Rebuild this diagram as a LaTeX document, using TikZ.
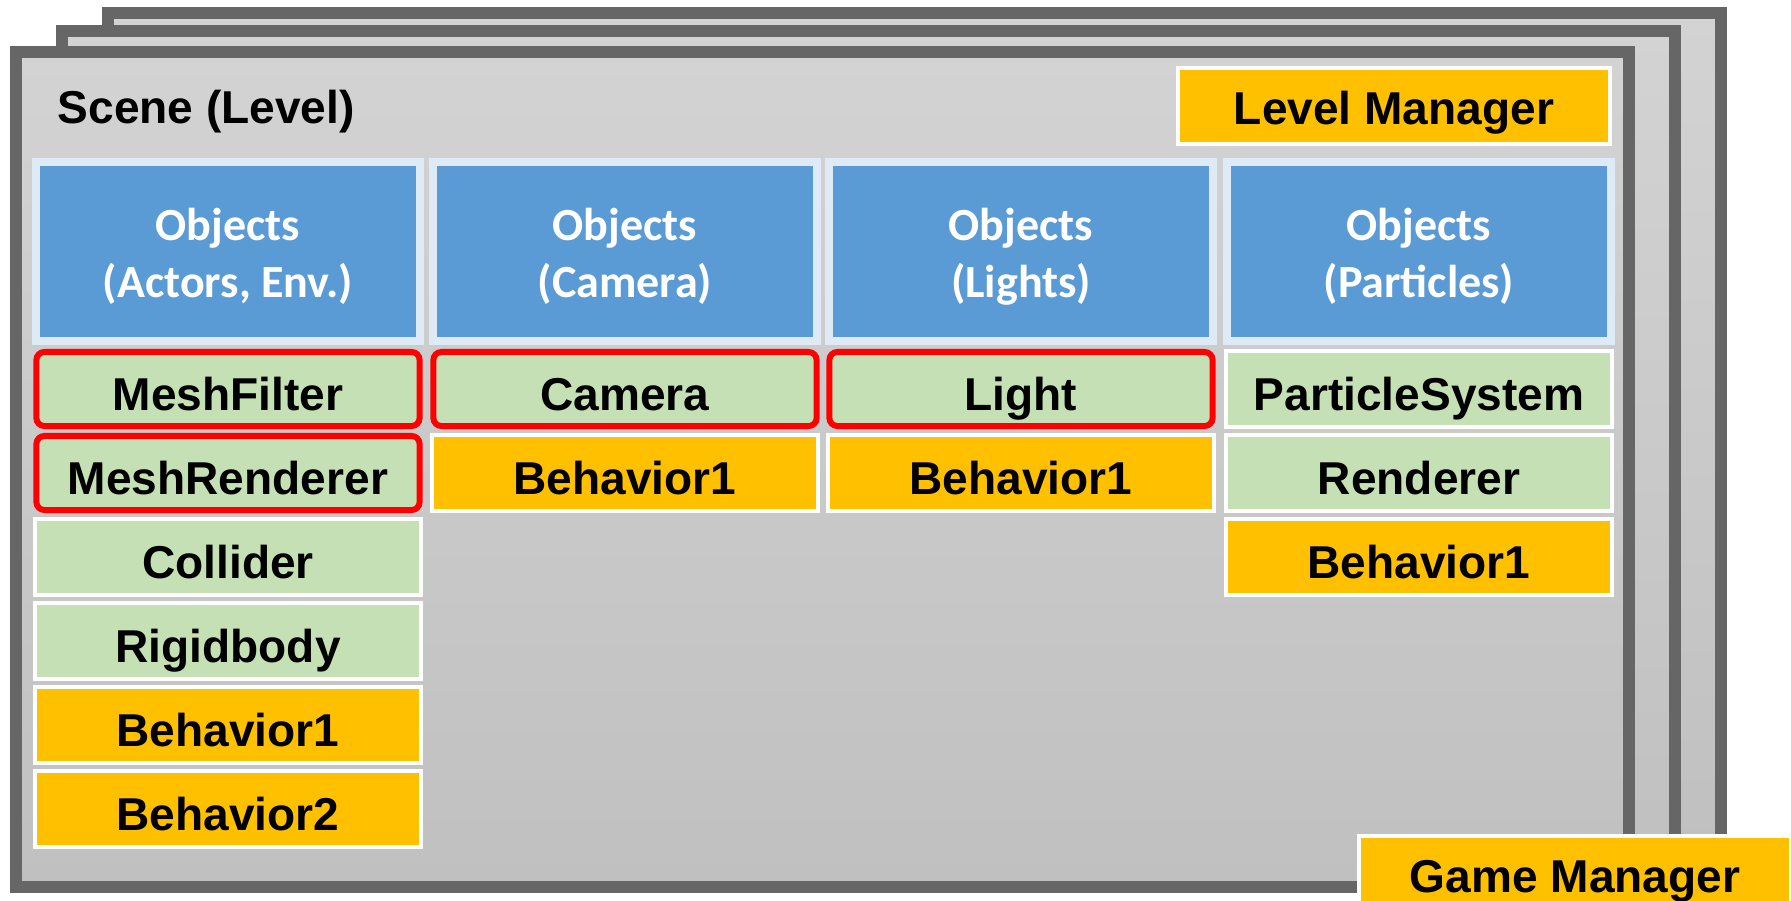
\documentclass[tikz,border=0pt]{standalone}
\usepackage{fontspec}
\setmainfont{Liberation Sans}
\newfontfamily\objfont{Carlito}

\definecolor{framegray}{HTML}{666666}
\definecolor{scenetop}{HTML}{D3D3D3}
\definecolor{scenebot}{HTML}{C0C0C0}
\definecolor{objblue}{HTML}{5B9BD5}
\definecolor{objedge}{HTML}{DEEBF7}
\definecolor{compgreen}{HTML}{C5E0B4}
\definecolor{behavyellow}{HTML}{FFC000}
\definecolor{keyred}{HTML}{FF0000}

\begin{document}
\begin{tikzpicture}[x=0.01cm, y=-0.01cm,
  frame/.style={draw=framegray, line width=3.4pt, top color=scenetop, bottom color=scenebot},
  objbox/.style={fill=objblue, draw=objedge, line width=2.3pt, minimum width=3.83cm, minimum height=1.79cm,
    align=center, text=white, text height=1.05cm, text depth=0.14cm, inner sep=0pt,
    font=\objfont\bfseries\fontsize{13.1}{16.2}\selectfont},
  compbox/.style={draw=white, line width=1.1pt, minimum width=3.85cm, minimum height=0.76cm, inner sep=0pt,
    text height=0.5cm, text depth=0.08cm, font=\bfseries\fontsize{13.1}{16}\selectfont},
  comp/.style={compbox, fill=compgreen},
  behav/.style={compbox, fill=behavyellow},
  keycomp/.style={compbox, fill=compgreen, draw=keyred, line width=1.7pt, rounded corners=0.08cm,
    minimum width=3.83cm, minimum height=0.74cm},
  manager/.style={compbox, fill=behavyellow, minimum width=4.32cm, text depth=0.14cm}]
  \useasboundingbox (0,0) rectangle (1791,900);

  % stacked scenes
  \draw[frame] (108,13) rectangle (1721,848);
  \draw[frame] (62,31) rectangle (1675,866);
  \draw[frame] (16,52) rectangle (1629,887);

  \node[anchor=base west, inner sep=0pt, font=\bfseries\fontsize{13.1}{16}\selectfont] (scene) at (57,123) {Scene (Level)};
  \node[manager] (levelmgr) at (1394,106) {Level Manager};

  % objects
  \node[objbox] (actors) at (228,251.5) {Objects\\(Actors, Env.)};
  \node[objbox] (camobj) at (625,251.5) {Objects\\(Camera)};
  \node[objbox] (lightobj) at (1021,251.5) {Objects\\(Lights)};
  \node[objbox] (partobj) at (1419,251.5) {Objects\\(Particles)};

  % components of actors
  \node[keycomp] (meshfilter) at (228,389) {MeshFilter};
  \node[keycomp] (meshrenderer) at (228,473) {MeshRenderer};
  \node[comp] (collider) at (228,557) {Collider};
  \node[comp] (rigidbody) at (228,641) {Rigidbody};
  \node[behav] (actbehav1) at (228,725) {Behavior1};
  \node[behav] (actbehav2) at (228,809) {Behavior2};

  % camera
  \node[keycomp] (camera) at (625,389) {Camera};
  \node[behav] (cambehav) at (625,473) {Behavior1};

  % lights
  \node[keycomp] (light) at (1021,389) {Light};
  \node[behav] (lightbehav) at (1021,473) {Behavior1};

  % particles
  \node[comp] (partsys) at (1419,389) {ParticleSystem};
  \node[comp] (renderer) at (1419,473) {Renderer};
  \node[behav] (partbehav) at (1419,557) {Behavior1};

  \node[manager] (gamemgr) at (1575,874) {Game Manager};
\end{tikzpicture}
\end{document}
